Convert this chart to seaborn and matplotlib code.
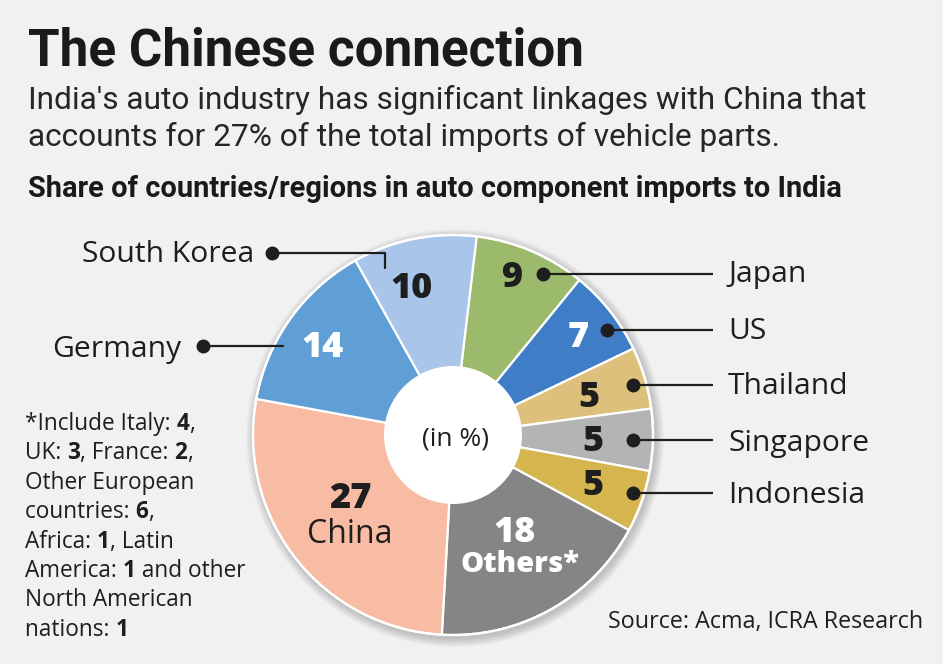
import matplotlib
matplotlib.use("Agg")
import matplotlib.pyplot as plt
from matplotlib import font_manager as fm
from matplotlib.patches import Circle
import seaborn as sns

# ---------------- data ----------------
countries = ["Japan", "US", "Thailand", "Singapore", "Indonesia",
             "Others*", "China", "Germany", "South Korea"]
shares = [9, 7, 5, 5, 5, 18, 27, 14, 10]
slice_colors = ["#9cba6c", "#3f7ec6", "#ddc07c", "#b4b4b6", "#d4b54e",
                "#858585", "#f8bba3", "#5f9fd6", "#a9c5ea"]
title = "The Chinese connection"
subtitle = ["India's auto industry has significant linkages with China that",
            "accounts for 27% of the total imports of vehicle parts."]
heading = "Share of countries/regions in auto component imports to India"
source = "Source: Acma, ICRA Research"
footnote = [
    [("*Include Italy: ", False), ("4", True), (",", False)],
    [("UK: ", False), ("3", True), (", France: ", False), ("2", True), (",", False)],
    [("Other European", False)],
    [("countries: ", False), ("6", True), (",", False)],
    [("Africa: ", False), ("1", True), (", Latin", False)],
    [("America: ", False), ("1", True), (" and other", False)],
    [("North American", False)],
    [("nations: ", False), ("1", True)],
]

# ---------------- style ----------------
sns.set_style("white")
BG = "#f1f1f1"
INK = "#1e1e1e"


def has_font(name):
    try:
        fm.findfont(fm.FontProperties(family=name), fallback_to_default=False)
        return True
    except Exception:
        return False


NARROW = "Liberation Sans Narrow" if has_font("Liberation Sans Narrow") else "Roboto"
BODY = "Open Sans" if has_font("Open Sans") else "DejaVu Sans"
plt.rcParams["font.family"] = [BODY, "DejaVu Sans"]

W, H = 943, 664
fig = plt.figure(figsize=(W / 100, H / 100), dpi=100, facecolor=BG)
ax = fig.add_axes([0, 0, 1, 1])
ax.set_facecolor(BG)
renderer = fig.canvas.get_renderer()


def Y(y):
    return H - y


def fit(t, target_w):
    w = t.get_window_extent(renderer).width
    t.set_fontsize(t.get_fontsize() * target_w / w)
    return t


def width_of(s, **kw):
    t1 = ax.text(0, 0, s + "|", **kw)
    t2 = ax.text(0, 0, "|", **kw)
    w = t1.get_window_extent(renderer).width - t2.get_window_extent(renderer).width
    t1.remove(); t2.remove()
    return w


# ---------------- pie ----------------
cx, cy, R = 453, Y(435), 200
pal = sns.color_palette(slice_colors)
# soft shadow
for k in range(10):
    ax.add_patch(Circle((cx + 2, cy - 3), R + 1 + k * 0.9, color="#000000",
                        alpha=0.018, lw=0, zorder=0))
ax.pie(shares, colors=pal, startangle=83.2, counterclock=False, radius=R,
       center=(cx, cy), wedgeprops=dict(edgecolor="white", linewidth=1.6),
       frame=True)
ax.add_patch(Circle((cx, cy), R, fill=False, ec="white", lw=1.6, zorder=3))
ax.add_patch(Circle((cx, cy), 69, color="white", lw=0, zorder=4))

ax.set_xlim(0, W)
ax.set_ylim(0, H)
ax.set_aspect("auto")
ax.axis("off")

# ---------------- slice values ----------------
num_kw = dict(fontweight=800, ha="center", va="baseline", zorder=6)
val_pos = {  # label: (x, baseline, color)
    "Japan": (512, 287, INK), "US": (578, 347, "white"),
    "Thailand": (589, 407, INK), "Singapore": (593, 451, INK),
    "Indonesia": (593, 495, INK), "Others*": (515, 542, "white"),
    "China": (350, 508, INK), "Germany": (323, 357, "white"),
    "South Korea": (412, 298, INK),
}
for c, v in zip(countries, shares):
    x, yb, col = val_pos[c]
    ax.text(x, Y(yb), str(v), fontsize=26, color=col, **num_kw)
ax.text(350, Y(543), "China", fontsize=23, color=INK, ha="center", va="baseline", zorder=6)
ax.text(520, Y(572), "Others*", fontsize=21, color="white", fontweight=800,
        ha="center", va="baseline", zorder=6)
ax.text(456, Y(445), "(in %)", fontsize=19, color=INK, ha="center", va="baseline", zorder=6)

# ---------------- leader lines & labels ----------------
lw = 1.6
right_labels = {  # label: (dot x, y, text baseline)
    "Japan": (543, 274, 282), "US": (607, 330, 339), "Thailand": (633, 385, 394),
    "Singapore": (633, 440, 451), "Indonesia": (633, 493, 503),
}
lab_size = 22
for c in countries:
    if c in right_labels:
        dx, dy, bl = right_labels[c]
        ax.plot([dx, 713], [Y(dy), Y(dy)], color=INK, lw=lw, zorder=7, solid_capstyle="butt")
        ax.plot(dx, Y(dy), "o", color=INK, ms=9, zorder=8)
        t = ax.text(728, Y(bl), c, fontsize=lab_size, color=INK, va="baseline", ha="left")
        if c == "Singapore":
            fit(t, 141)
            lab_size = t.get_fontsize()
for t in ax.texts:
    if t.get_text() in right_labels:
        t.set_fontsize(lab_size)

# South Korea
ax.plot([272, 385, 385], [Y(253), Y(253), Y(268)], color=INK, lw=lw, zorder=7)
ax.plot(272, Y(253), "o", color=INK, ms=9, zorder=8)
ax.text(254, Y(262), "South Korea", fontsize=lab_size, color=INK, ha="right", va="baseline")
# Germany
ax.plot([203, 283], [Y(346), Y(346)], color=INK, lw=lw, zorder=7)
ax.plot(203, Y(346), "o", color=INK, ms=9, zorder=8)
ax.text(181, Y(357), "Germany", fontsize=lab_size, color=INK, ha="right", va="baseline")

# ---------------- titles ----------------
t = ax.text(28, Y(65), title, fontsize=40, fontweight="bold", family=NARROW,
            color="#1a1a1a", va="baseline")
fit(t, 555)
t1 = ax.text(28, Y(109), subtitle[0], fontsize=26, family=NARROW,
             color="#262626", va="baseline")
fit(t1, 840)
ax.text(28, Y(146), subtitle[1], fontsize=t1.get_fontsize(),
        family=NARROW, color="#262626", va="baseline")
t = ax.text(28, Y(197), heading, fontsize=18, fontweight="bold", family=NARROW,
            color="#1a1a1a", va="baseline")
fit(t, 817)

t = ax.text(923, Y(628), source, fontsize=17, color=INK, ha="right", va="baseline")
fit(t, 316)

# ---------------- footnote ----------------
fn_size = 15
probe = ax.text(0, 0, "America: 1 and other", fontsize=fn_size)
fit(probe, 220)
fn_size = probe.get_fontsize()
probe.remove()
for i, segs in enumerate(footnote):
    x = 25
    yb = Y(430 + 29.4 * i)
    for s, b in segs:
        kw = dict(fontsize=fn_size, fontweight="bold" if b else "normal")
        ax.text(x, yb, s, color=INK, va="baseline", ha="left", **kw)
        x += width_of(s, **kw)

fig.savefig("out.png", dpi=100, facecolor=BG)
